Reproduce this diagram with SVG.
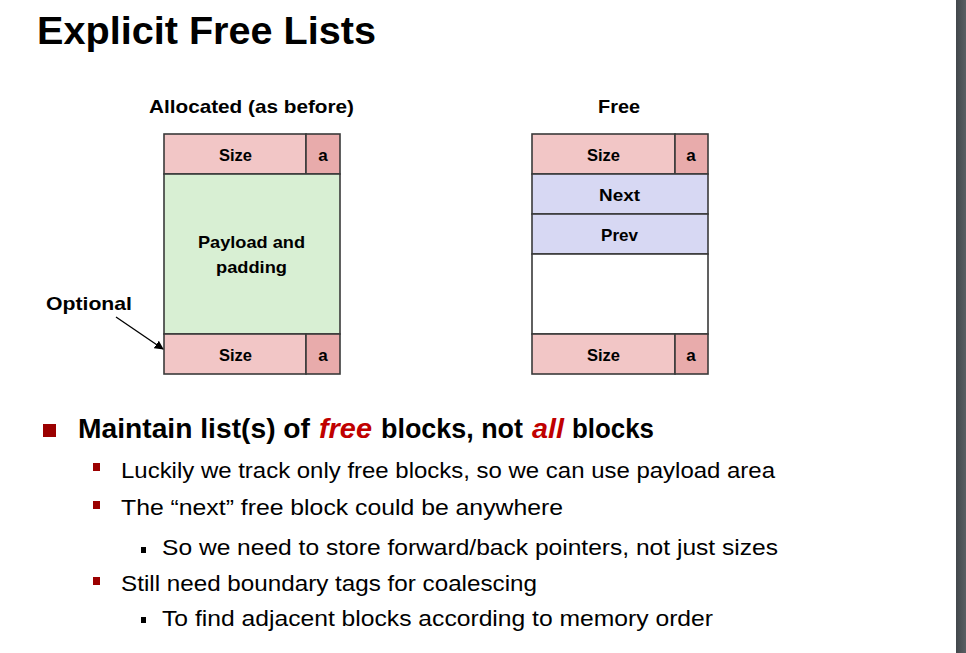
<svg xmlns="http://www.w3.org/2000/svg" width="966" height="653" viewBox="0 0 966 653">
  <defs>
    <style>
      .t { font-family: "Liberation Sans", Arial, sans-serif; fill: #000; }
      .b { font-weight: bold; }
      .cell { stroke: #3a3a3a; stroke-width: 1.6; }
      .size { fill: #f2c6c6; }
      .abit { fill: #e8abab; }
      .payload { fill: #d8efd3; }
      .ptr { fill: #d7d8f3; }
      .empty { fill: #ffffff; }
      .red { fill: #c00000; font-style: italic; }
      .bul { fill: #9b0000; }
    </style>
    <linearGradient id="edge" x1="0" y1="0" x2="1" y2="0">
      <stop offset="0" stop-color="#42474b"/>
      <stop offset="1" stop-color="#5a5f63"/>
    </linearGradient>
    <marker id="arrowhead" viewBox="0 0 10 10" refX="9" refY="5" markerWidth="9" markerHeight="9" markerUnits="userSpaceOnUse" orient="auto">
      <path d="M0,0 L10,5 L0,10 z" fill="#000"/>
    </marker>
  </defs>

  <rect x="0" y="0" width="966" height="653" fill="#ffffff"/>
  <rect x="956" y="0" width="10" height="653" fill="url(#edge)"/>

  <!-- title -->
  <text class="t b" x="37" y="44" font-size="39" textLength="339" lengthAdjust="spacingAndGlyphs">Explicit Free Lists</text>

  <!-- allocated block layout -->
  <g id="allocated-block">
    <text class="t b" x="149" y="113" font-size="19" textLength="205" lengthAdjust="spacingAndGlyphs">Allocated (as before)</text>
    <rect class="cell size" x="164" y="134" width="142" height="40"/>
    <rect class="cell abit" x="306" y="134" width="34" height="40"/>
    <rect class="cell payload" x="164" y="174" width="176" height="160"/>
    <rect class="cell size" x="164" y="334" width="142" height="40"/>
    <rect class="cell abit" x="306" y="334" width="34" height="40"/>
    <text class="t b" x="219" y="161" font-size="17" textLength="33" lengthAdjust="spacingAndGlyphs">Size</text>
    <text class="t b" x="323" y="161" font-size="17" text-anchor="middle">a</text>
    <text class="t b" x="198" y="248" font-size="17" textLength="107" lengthAdjust="spacingAndGlyphs">Payload and</text>
    <text class="t b" x="216" y="273" font-size="17" textLength="71" lengthAdjust="spacingAndGlyphs">padding</text>
    <text class="t b" x="219" y="361" font-size="17" textLength="33" lengthAdjust="spacingAndGlyphs">Size</text>
    <text class="t b" x="323" y="361" font-size="17" text-anchor="middle">a</text>
  </g>

  <!-- free block layout -->
  <g id="free-block">
    <text class="t b" x="598" y="113" font-size="19" textLength="42" lengthAdjust="spacingAndGlyphs">Free</text>
    <rect class="cell size" x="532" y="134" width="143" height="40"/>
    <rect class="cell abit" x="675" y="134" width="33" height="40"/>
    <rect class="cell ptr" x="532" y="174" width="176" height="40"/>
    <rect class="cell ptr" x="532" y="214" width="176" height="40"/>
    <rect class="cell empty" x="532" y="254" width="176" height="80"/>
    <rect class="cell size" x="532" y="334" width="143" height="40"/>
    <rect class="cell abit" x="675" y="334" width="33" height="40"/>
    <text class="t b" x="587" y="161" font-size="17" textLength="33" lengthAdjust="spacingAndGlyphs">Size</text>
    <text class="t b" x="691" y="161" font-size="17" text-anchor="middle">a</text>
    <text class="t b" x="599" y="201" font-size="17" textLength="41" lengthAdjust="spacingAndGlyphs">Next</text>
    <text class="t b" x="601" y="241" font-size="17" textLength="37" lengthAdjust="spacingAndGlyphs">Prev</text>
    <text class="t b" x="587" y="361" font-size="17" textLength="33" lengthAdjust="spacingAndGlyphs">Size</text>
    <text class="t b" x="691" y="361" font-size="17" text-anchor="middle">a</text>
  </g>

  <g id="optional-label">
    <text class="t b" x="46" y="310" font-size="19" textLength="86" lengthAdjust="spacingAndGlyphs">Optional</text>
  </g>

  <g id="connectors">
    <line x1="116" y1="317" x2="163" y2="349" stroke="#000" stroke-width="1.3" marker-end="url(#arrowhead)"/>
  </g>

  <!-- bullet list -->
  <g id="bullets">
    <rect class="bul" x="43" y="424" width="13" height="13"/>
    <text class="t b" x="78" y="438" font-size="27" textLength="232" lengthAdjust="spacingAndGlyphs">Maintain list(s) of</text>
    <text class="t b red" x="319" y="438" font-size="27" textLength="53" lengthAdjust="spacingAndGlyphs">free</text>
    <text class="t b" x="381" y="438" font-size="27" textLength="142" lengthAdjust="spacingAndGlyphs">blocks, not</text>
    <text class="t b red" x="532" y="438" font-size="27" textLength="32" lengthAdjust="spacingAndGlyphs">all</text>
    <text class="t b" x="572" y="438" font-size="27" textLength="82" lengthAdjust="spacingAndGlyphs">blocks</text>

    <rect class="bul" x="93" y="463" width="7" height="8"/>
    <text class="t" x="121" y="478" font-size="22" textLength="654" lengthAdjust="spacingAndGlyphs">Luckily we track only free blocks, so we can use payload area</text>

    <rect class="bul" x="93" y="501" width="7" height="8"/>
    <text class="t" x="121" y="515" font-size="22" textLength="442" lengthAdjust="spacingAndGlyphs">The “next” free block could be anywhere</text>

    <rect x="141" y="547" width="5" height="6" fill="#000"/>
    <text class="t" x="162" y="555" font-size="22" textLength="616" lengthAdjust="spacingAndGlyphs">So we need to store forward/back pointers, not just sizes</text>

    <rect class="bul" x="93" y="577" width="7" height="8"/>
    <text class="t" x="121" y="591" font-size="22" textLength="416" lengthAdjust="spacingAndGlyphs">Still need boundary tags for coalescing</text>

    <rect x="141" y="617" width="5" height="6" fill="#000"/>
    <text class="t" x="162" y="626" font-size="22" textLength="551" lengthAdjust="spacingAndGlyphs">To find adjacent blocks according to memory order</text>
  </g>
</svg>
